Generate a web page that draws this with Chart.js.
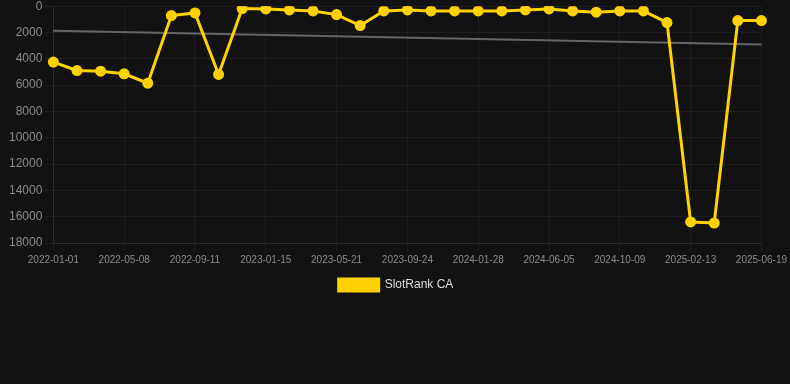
<!DOCTYPE html>
<html>
<head>
<meta charset="utf-8">
<script src="https://cdn.jsdelivr.net/npm/chart.js@4"></script>
<style>
  html, body { margin: 0; padding: 0; background: #121212; overflow: hidden; }
  #wrap { position: relative; width: 790px; height: 305px; margin-top: -4px; }
</style>
</head>
<body>
<div id="wrap"><canvas id="c"></canvas></div>
<script>
const categories = [
  "2022-01-01","2022-02-12","2022-03-26","2022-05-08","2022-06-19","2022-07-31",
  "2022-09-11","2022-10-23","2022-12-04","2023-01-15","2023-02-26","2023-04-09",
  "2023-05-21","2023-07-02","2023-08-13","2023-09-24","2023-11-05","2023-12-17",
  "2024-01-28","2024-03-10","2024-04-24","2024-06-05","2024-07-17","2024-08-28",
  "2024-10-09","2024-11-20","2025-01-02","2025-02-13","2025-03-27","2025-05-08",
  "2025-06-19"
];
const slotRankCA = [
  4250, 4890, 4940, 5140, 5850, 710, 510, 5190, 180, 205, 280, 360,
  640, 1470, 360, 280, 360, 360, 360, 360, 280, 205, 360, 455,
  360, 360, 1245, 16400, 16480, 1095, 1095
];
const trendEnds = [1875, 2915];
const trend = categories.map((_, i) =>
  i === 0 ? trendEnds[0] : (i === categories.length - 1 ? trendEnds[1] : null));
const yTicks = [0, 2000, 4000, 6000, 8000, 10000, 12000, 14000, 16000, 18000];

Chart.defaults.font.family = "'Liberation Sans', Arial, sans-serif";

new Chart(document.getElementById('c'), {
  type: 'line',
  data: {
    labels: categories,
    datasets: [
      {
        label: 'SlotRank CA',
        data: slotRankCA,
        borderColor: '#FFD200',
        backgroundColor: '#FFD200',
        borderWidth: 3,
        pointRadius: 4,
        pointHoverRadius: 4,
        pointBackgroundColor: '#FFD200',
        pointBorderColor: '#FFD200',
        tension: 0,
        order: 1
      },
      {
        label: 'trend',
        data: trend,
        spanGaps: true,
        borderColor: '#666666',
        backgroundColor: '#666666',
        borderWidth: 2,
        pointRadius: 0,
        order: 2
      }
    ]
  },
  options: {
    responsive: true,
    maintainAspectRatio: false,
    animation: false,
    layout: { padding: { left: 6, right: 4, top: 0, bottom: 0 } },
    plugins: {
      legend: {
        position: 'bottom',
        labels: {
          color: '#dddddd',
          font: { size: 12 },
          boxWidth: 40,
          boxHeight: 12,
          filter: (item) => item.text !== 'trend'
        }
      },
      tooltip: { enabled: false }
    },
    scales: {
      x: {
        offset: false,
        grid: { color: 'rgba(255,255,255,0.05)', tickColor: 'rgba(255,255,255,0.05)' },
        border: { color: 'rgba(255,255,255,0.08)' },
        ticks: {
          color: '#8a8a8a',
          font: { size: 10 },
          autoSkip: false,
          maxRotation: 0,
          callback: function(v, i) { return i % 3 === 0 ? categories[i] : null; }
        }
      },
      y: {
        reverse: true,
        min: 0,
        max: 18000,
        grid: { color: 'rgba(255,255,255,0.05)', tickColor: 'rgba(255,255,255,0.05)' },
        border: { color: 'rgba(255,255,255,0.08)' },
        afterBuildTicks: (axis) => { axis.ticks = yTicks.map(v => ({ value: v })); },
        ticks: {
          color: '#8a8a8a',
          font: { size: 12 },
          callback: (v) => String(v)
        }
      }
    }
  }
});
</script>
</body>
</html>
